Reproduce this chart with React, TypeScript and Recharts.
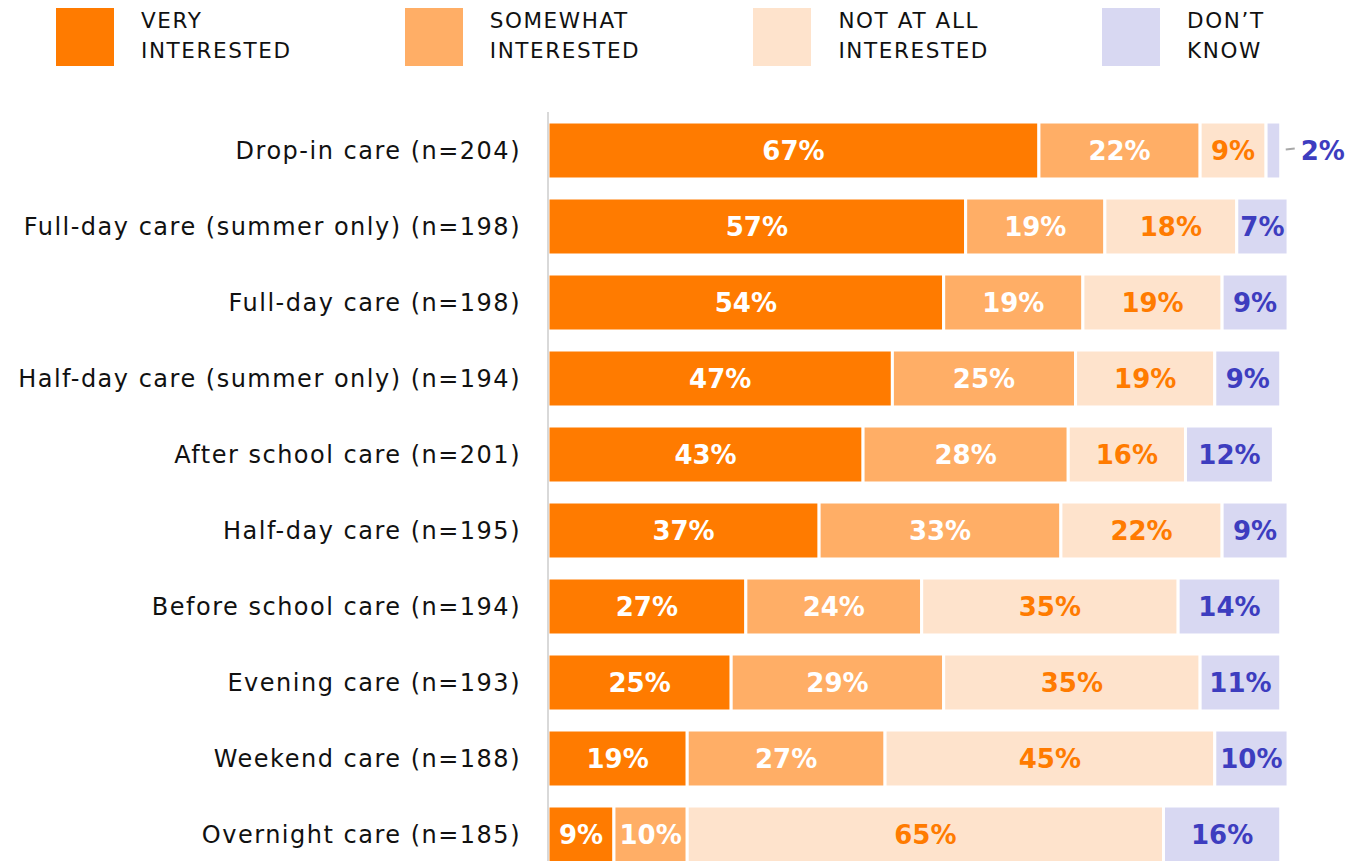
import React from "react";
import { BarChart, Bar, XAxis, YAxis, Legend, LabelList } from "recharts";

const categories = [
  "Drop-in care (n=204)",
  "Full-day care (summer only) (n=198)",
  "Full-day care (n=198)",
  "Half-day care (summer only) (n=194)",
  "After school care (n=201)",
  "Half-day care (n=195)",
  "Before school care (n=194)",
  "Evening care (n=193)",
  "Weekend care (n=188)",
  "Overnight care (n=185)",
];
const veryInterested = [67, 57, 54, 47, 43, 37, 27, 25, 19, 9];
const somewhatInterested = [22, 19, 19, 25, 28, 33, 24, 29, 27, 10];
const notAtAllInterested = [9, 18, 19, 19, 16, 22, 35, 35, 45, 65];
const dontKnow = [2, 7, 9, 9, 12, 9, 14, 11, 10, 16];

const seriesKeys = ["very", "somewhat", "notAtAll", "dontKnow"];
const seriesNames = ["VERY INTERESTED", "SOMEWHAT INTERESTED", "NOT AT ALL INTERESTED", "DON’T KNOW"];
const legendLines = [
  ["VERY", "INTERESTED"],
  ["SOMEWHAT", "INTERESTED"],
  ["NOT AT ALL", "INTERESTED"],
  ["DON’T", "KNOW"],
];
const colors = ["#FF7B00", "#FFAE66", "#FEE3CC", "#D8D8F2"];
const labelColors = ["#FFFFFF", "#FFFFFF", "#FF7B00", "#3D3DBF"];

const data = categories.map((name, i) => ({
  name,
  very: veryInterested[i],
  somewhat: somewhatInterested[i],
  notAtAll: notAtAllInterested[i],
  dontKnow: dontKnow[i],
}));

const LABEL_FONT = "'DejaVu Sans', sans-serif";
const TEXT_FONT = "'DejaVu Sans', sans-serif";

const makeLabel = (color: string) => (props: any) => {
  const { x, y, width, height, value } = props;
  const cy = y + height / 2;
  if (width < 30) {
    return (
      <g>
        <line x1={x + width + 5} x2={x + width + 14} y1={cy - 1} y2={cy - 2} stroke="#A8A8A8" strokeWidth={1.8} />
        <text x={x + width + 20} y={cy} dominantBaseline="central" fill={color} fontSize={26} fontWeight={700} fontFamily={LABEL_FONT}>
          {value}%
        </text>
      </g>
    );
  }
  return (
    <text x={x + width / 2} y={cy} textAnchor="middle" dominantBaseline="central" fill={color} fontSize={26} fontWeight={700} fontFamily={LABEL_FONT}>
      {value}%
    </text>
  );
};

const renderLegend = (props: any) => {
  const payload = props.payload || [];
  return (
    <div style={{ position: "relative", width: 1357, height: 66 }}>
      {payload.map((p: any) => {
        const i = seriesKeys.indexOf(p.dataKey);
        return (
          <div key={p.dataKey} style={{ position: "absolute", left: 48 + i * 348.7, top: 0, display: "flex" }}>
            <div style={{ width: 58, height: 58, background: colors[i] }} />
            <div
              style={{
                marginLeft: 27,
                marginTop: -2,
                fontFamily: TEXT_FONT,
                fontSize: 21.5,
                lineHeight: "30px",
                letterSpacing: 1.6,
                color: "#111",
              }}
            >
              {legendLines[i].map((l, j) => (
                <div key={j}>{l}</div>
              ))}
            </div>
          </div>
        );
      })}
    </div>
  );
};

export default function App() {
  return (
    <div style={{ width: 1357, height: 853, overflow: "hidden" }}>
      <BarChart
        width={1357}
        height={864}
        data={data}
        layout="vertical"
        margin={{ top: 38, right: 11, bottom: 0, left: 0 }}
        barSize={57}
      >
        <XAxis type="number" domain={[0, 110]} hide />
        <YAxis
          type="category"
          dataKey="name"
          width={540}
          tickLine={false}
          tickSize={0}
          tickMargin={27}
          axisLine={{ stroke: "#CCCCCC", strokeWidth: 1.5 }}
          tick={{ fill: "#111111", fontSize: 24, fontFamily: TEXT_FONT, letterSpacing: 1.5 }}
          interval={0}
        />
        <Legend verticalAlign="top" content={renderLegend} wrapperStyle={{ top: 0, left: 0, width: 1357 }} />
        {seriesKeys.map((k, i) => (
          <Bar
            key={k}
            dataKey={k}
            name={seriesNames[i]}
            stackId="a"
            fill={colors[i]}
            stroke="#FFFFFF"
            strokeWidth={3}
            isAnimationActive={false}
          >
            <LabelList dataKey={k} content={makeLabel(labelColors[i])} />
          </Bar>
        ))}
      </BarChart>
    </div>
  );
}
